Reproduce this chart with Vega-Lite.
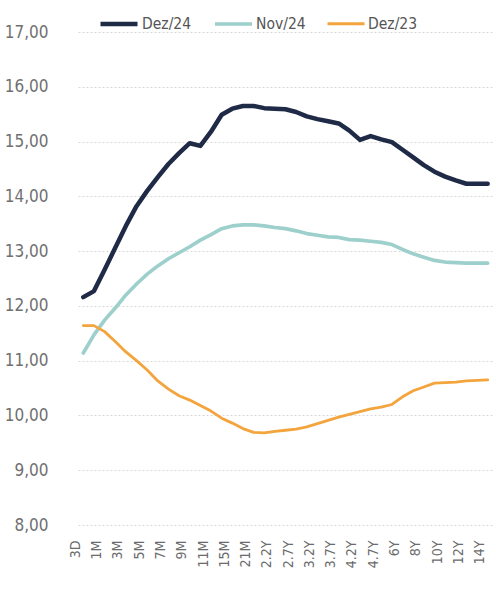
{
  "$schema": "https://vega.github.io/schema/vega-lite/v6.json",
  "width": 434,
  "height": 493,
  "autosize": "none",
  "padding": {"left": 62, "top": 32, "right": 0, "bottom": 65},
  "background": "white",
  "config": {"view": {"stroke": null}, "font": "DejaVu Sans Condensed, Roboto, sans-serif"},
  "data": {
    "values": [
      {"prazo": "3D", "Dez/24": 12.16, "Nov/24": 11.14, "Dez/23": 11.64},
      {"prazo": "2W", "Dez/24": 12.27, "Nov/24": 11.47, "Dez/23": 11.64},
      {"prazo": "1M", "Dez/24": 12.66, "Nov/24": 11.74, "Dez/23": 11.53},
      {"prazo": "2M", "Dez/24": 13.06, "Nov/24": 11.96, "Dez/23": 11.35},
      {"prazo": "3M", "Dez/24": 13.46, "Nov/24": 12.20, "Dez/23": 11.16},
      {"prazo": "4M", "Dez/24": 13.82, "Nov/24": 12.40, "Dez/23": 11.00},
      {"prazo": "5M", "Dez/24": 14.10, "Nov/24": 12.58, "Dez/23": 10.83},
      {"prazo": "6M", "Dez/24": 14.35, "Nov/24": 12.73, "Dez/23": 10.63},
      {"prazo": "7M", "Dez/24": 14.59, "Nov/24": 12.86, "Dez/23": 10.48},
      {"prazo": "8M", "Dez/24": 14.79, "Nov/24": 12.97, "Dez/23": 10.36},
      {"prazo": "9M", "Dez/24": 14.97, "Nov/24": 13.08, "Dez/23": 10.28},
      {"prazo": "10M", "Dez/24": 14.92, "Nov/24": 13.20, "Dez/23": 10.18},
      {"prazo": "11M", "Dez/24": 15.18, "Nov/24": 13.30, "Dez/23": 10.08},
      {"prazo": "13M", "Dez/24": 15.49, "Nov/24": 13.41, "Dez/23": 9.95},
      {"prazo": "15M", "Dez/24": 15.60, "Nov/24": 13.46, "Dez/23": 9.86},
      {"prazo": "18M", "Dez/24": 15.65, "Nov/24": 13.48, "Dez/23": 9.76},
      {"prazo": "21M", "Dez/24": 15.65, "Nov/24": 13.48, "Dez/23": 9.69},
      {"prazo": "2Y", "Dez/24": 15.61, "Nov/24": 13.46, "Dez/23": 9.68},
      {"prazo": "2.2Y", "Dez/24": 15.60, "Nov/24": 13.43, "Dez/23": 9.71},
      {"prazo": "2.5Y", "Dez/24": 15.59, "Nov/24": 13.41, "Dez/23": 9.73},
      {"prazo": "2.7Y", "Dez/24": 15.54, "Nov/24": 13.37, "Dez/23": 9.75},
      {"prazo": "3Y", "Dez/24": 15.46, "Nov/24": 13.32, "Dez/23": 9.79},
      {"prazo": "3.2Y", "Dez/24": 15.41, "Nov/24": 13.29, "Dez/23": 9.85},
      {"prazo": "3.5Y", "Dez/24": 15.37, "Nov/24": 13.26, "Dez/23": 9.91},
      {"prazo": "3.7Y", "Dez/24": 15.33, "Nov/24": 13.25, "Dez/23": 9.97},
      {"prazo": "4Y", "Dez/24": 15.20, "Nov/24": 13.21, "Dez/23": 10.02},
      {"prazo": "4.2Y", "Dez/24": 15.03, "Nov/24": 13.20, "Dez/23": 10.07},
      {"prazo": "4.5Y", "Dez/24": 15.10, "Nov/24": 13.18, "Dez/23": 10.12},
      {"prazo": "4.7Y", "Dez/24": 15.04, "Nov/24": 13.16, "Dez/23": 10.15},
      {"prazo": "5Y", "Dez/24": 14.99, "Nov/24": 13.12, "Dez/23": 10.20},
      {"prazo": "6Y", "Dez/24": 14.85, "Nov/24": 13.03, "Dez/23": 10.34},
      {"prazo": "7Y", "Dez/24": 14.71, "Nov/24": 12.95, "Dez/23": 10.45},
      {"prazo": "8Y", "Dez/24": 14.57, "Nov/24": 12.89, "Dez/23": 10.52},
      {"prazo": "9Y", "Dez/24": 14.45, "Nov/24": 12.83, "Dez/23": 10.59},
      {"prazo": "10Y", "Dez/24": 14.36, "Nov/24": 12.80, "Dez/23": 10.60},
      {"prazo": "11Y", "Dez/24": 14.29, "Nov/24": 12.79, "Dez/23": 10.61},
      {"prazo": "12Y", "Dez/24": 14.23, "Nov/24": 12.78, "Dez/23": 10.63},
      {"prazo": "13Y", "Dez/24": 14.23, "Nov/24": 12.78, "Dez/23": 10.64},
      {"prazo": "14Y", "Dez/24": 14.23, "Nov/24": 12.78, "Dez/23": 10.65}
    ]
  },
  "transform": [{"fold": ["Dez/24", "Nov/24", "Dez/23"], "as": ["serie", "taxa"]}],
  "mark": {"type": "line", "strokeCap": "round", "strokeJoin": "round"},
  "encoding": {
    "x": {
      "field": "prazo",
      "type": "ordinal",
      "sort": null,
      "scale": {"type": "point", "range": [16, 431]},
      "axis": {
        "values": ["3D", "1M", "3M", "5M", "7M", "9M", "11M", "15M", "21M", "2.2Y", "2.7Y", "3.2Y", "3.7Y", "4.2Y", "4.7Y", "6Y", "8Y", "10Y", "12Y", "14Y"],
        "title": null,
        "labelAngle": -90,
        "labelAlign": "right",
        "labelBaseline": "middle",
        "labelFontSize": 14,
        "labelColor": "#6b6b6b",
        "labelPadding": 15,
        "labelOffset": -8,
        "ticks": false,
        "domain": false,
        "grid": false
      }
    },
    "y": {
      "field": "taxa",
      "type": "quantitative",
      "scale": {"domain": [8, 17], "nice": false, "zero": false},
      "axis": {
        "values": [8, 9, 10, 11, 12, 13, 14, 15, 16, 17],
        "labelExpr": "replace(format(datum.value, '.2f'), '.', ',')",
        "title": null,
        "labelFontSize": 17,
        "labelColor": "#707070",
        "labelPadding": 14,
        "ticks": false,
        "domain": false,
        "gridColor": "#d8d8d8",
        "gridDash": [2, 2],
        "gridWidth": 1
      }
    },
    "color": {
      "field": "serie",
      "type": "nominal",
      "scale": {"domain": ["Dez/24", "Nov/24", "Dez/23"], "range": ["#1f2a46", "#9dd0cc", "#f3a43c"]},
      "legend": {
        "orient": "none",
        "legendX": 36,
        "legendY": -29,
        "direction": "horizontal",
        "title": null,
        "symbolType": "stroke",
        "symbolSize": 1369,
        "labelFontSize": 15.5,
        "labelColor": "#555555",
        "labelOffset": 2,
        "columnPadding": 15
      }
    },
    "strokeWidth": {
      "field": "serie",
      "type": "nominal",
      "scale": {"domain": ["Dez/24", "Nov/24", "Dez/23"], "range": [4.5, 2.8, 3.2]},
      "legend": {
        "orient": "none",
        "legendX": 36,
        "legendY": -29,
        "direction": "horizontal",
        "title": null,
        "symbolType": "stroke",
        "symbolSize": 1369,
        "labelFontSize": 15.5,
        "labelColor": "#555555",
        "labelOffset": 2,
        "columnPadding": 15
      }
    }
  }
}
